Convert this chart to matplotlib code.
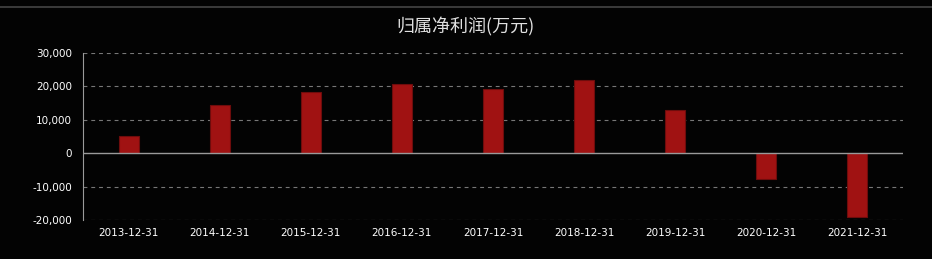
import numpy as np
import matplotlib.pyplot as plt
from matplotlib.ticker import FuncFormatter

plt.rcParams['font.family'] = ['Noto Sans CJK SC', 'DejaVu Sans']

# data
dates = ['2013-12-31', '2014-12-31', '2015-12-31', '2016-12-31', '2017-12-31',
         '2018-12-31', '2019-12-31', '2020-12-31', '2021-12-31']
profit = [5200, 14400, 18300, 20600, 19200, 22000, 12900, -7700, -19200]
yticks = [-20000, -10000, 0, 10000, 20000, 30000]

bg = '#030303'
fig = plt.figure(figsize=(9.32, 2.59), dpi=100, facecolor=bg)
ax = fig.add_axes([83 / 932, 1 - 220 / 259, 820 / 932, 167 / 259])
ax.set_facecolor(bg)

x = np.arange(len(dates))
ax.bar(x, profit, width=0.22, color='#a01212', edgecolor='#6e0c0c', linewidth=0.8, zorder=3)

ax.set_xlim(-0.5, len(dates) - 0.5)
ax.set_ylim(-20000, 30000)
ax.set_yticks(yticks)
ax.yaxis.set_major_formatter(FuncFormatter(lambda v, p: f'{int(v):,}'))
ax.set_xticks(x)
ax.set_xticklabels(dates)

# dashed grid, solid zero line
for v in yticks:
    if v != 0:
        ax.axhline(v, color='#777777', linestyle=(0, (3.5, 3.5)), linewidth=0.8, zorder=1)
ax.axhline(0, color='#9a9a9a', linewidth=1.0, zorder=4)

for s in ['top', 'right', 'bottom']:
    ax.spines[s].set_visible(False)
ax.spines['left'].set_color('#9a9a9a')
ax.tick_params(axis='both', colors='white', labelsize=7.5, length=0, pad=6)
ax.tick_params(axis='y', pad=8)
for lab in ax.get_xticklabels() + ax.get_yticklabels():
    lab.set_family('DejaVu Sans')

fig.text(0.5, 1 - 27 / 259, '归属净利润(万元)', color='#e0e0e0', fontsize=13,
         ha='center', va='center')
fig.add_artist(plt.Line2D([0, 1], [1 - 7 / 259, 1 - 7 / 259], color='#444444', linewidth=1.2))

fig.savefig('out.png', dpi=100, facecolor=fig.get_facecolor())
